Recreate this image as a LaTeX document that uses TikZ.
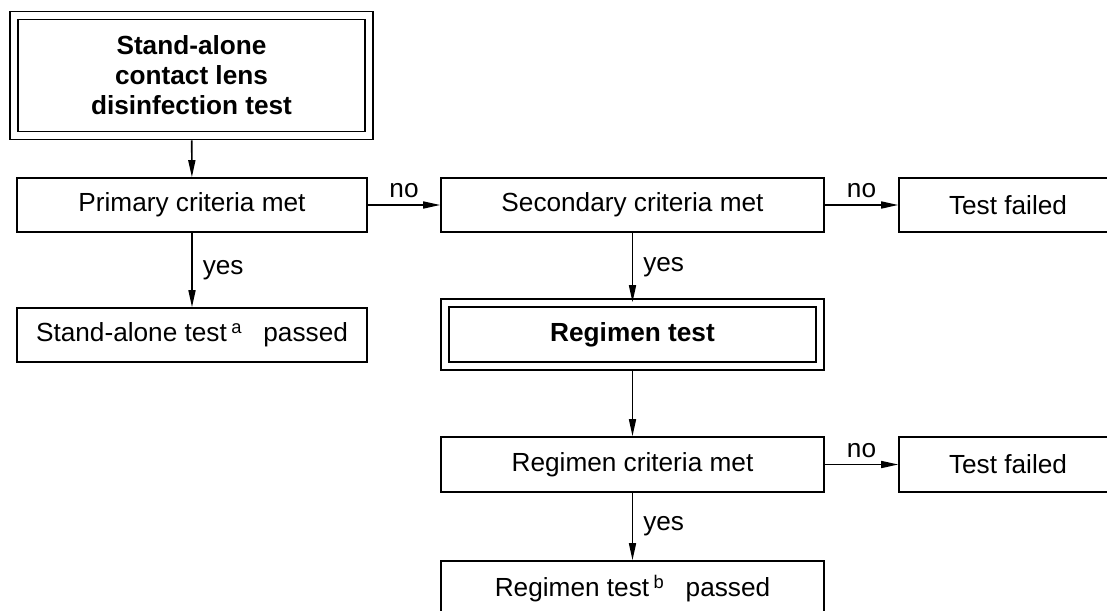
\documentclass[tikz,border=0pt]{standalone}
\usepackage{fontspec}
\setmainfont{Liberation Sans}
\usetikzlibrary{arrows.meta, calc}

\tikzset{
    box/.style={draw, line width=0.8pt, minimum width=175pt, minimum height=27pt, inner sep=0pt, font=\fontsize{13.1}{15}\selectfont},
    dbox/.style={box, double, double distance=3.2pt, font=\fontsize{13.1}{15}\selectfont\bfseries, align=center},
    flow/.style={line width=0.8pt, -{Triangle[length=8.5pt, width=3.5pt]}},
    lbl/.style={font=\fontsize{13.1}{15}\selectfont, inner sep=2pt}
}

\begin{document}
\begin{tikzpicture}[x=0.5pt, y=-0.5pt]
        \fill[white] (0,0) rectangle (1107,610);
        \useasboundingbox (0,0) rectangle (1107,610);
        \clip (0,0) rectangle (1107,610);

        % left column
        \node[dbox, minimum width=177.75pt, minimum height=60pt] (start) at (191.5,75.5) {Stand-alone\\contact lens\\disinfection test};
        \node[box] (primary) at (192,205) {Primary criteria met};
        \node[box] (alonepass) at (192,335) {Stand-alone test\,\textsuperscript{a}\hspace{0.8em}passed\hspace{0.6em}};

        % middle column
        \node[box, minimum width=191.5pt] (secondary) at (632.5,205) {Secondary criteria met};
        \node[dbox, minimum width=187.5pt, minimum height=31.5pt] (regtest) at (632.5,334.5) {Regimen test};
        \node[box, minimum width=191.5pt, minimum height=27.5pt] (regcrit) at (632.5,464.5) {Regimen criteria met};
        \node[box, minimum width=191.5pt, minimum height=27.5pt] (regpass) at (632.5,588.5) {Regimen test\,\textsuperscript{b}\hspace{0.8em}passed};

        % right column
        \node[box, minimum width=109pt] (failA) at (1008,205) {Test failed};
        \node[box, minimum width=109pt, minimum height=27.5pt] (failB) at (1008,464.5) {Test failed};

        \draw[flow, shorten <=2pt] (start) -- (primary);
        \draw[flow] (primary) -- (secondary) node[lbl, anchor=south, midway, yshift=1pt] {no};
        \draw[flow] (secondary) -- (failA) node[lbl, anchor=south, midway, yshift=1pt] {no};
        \draw[flow] (primary) -- (alonepass) node[lbl, anchor=west, midway, xshift=3pt] {yes};
        \draw[flow] (secondary) -- (regtest) node[lbl, anchor=west, midway, xshift=3pt] {yes};
        \draw[flow, shorten <=2pt] (regtest) -- (regcrit);
        \draw[flow] (regcrit) -- (failB) node[lbl, anchor=south, midway, yshift=1pt] {no};
        \draw[flow] (regcrit) -- (regpass) node[lbl, anchor=west, midway, xshift=3pt] {yes};
    \end{tikzpicture}
\end{document}
